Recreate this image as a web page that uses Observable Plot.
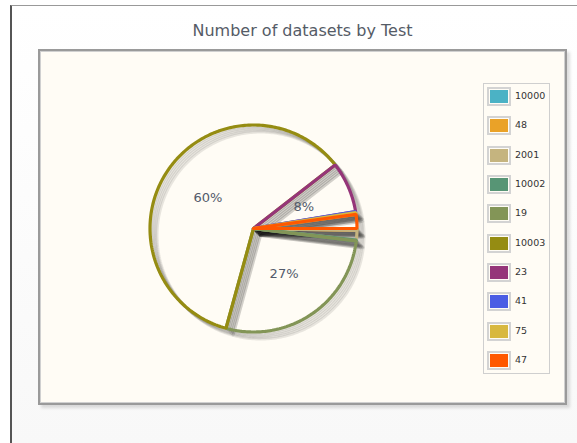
<!DOCTYPE html>
<html>
<head>
<meta charset="utf-8">
<script src="https://cdn.jsdelivr.net/npm/d3@7"></script>
<script src="https://cdn.jsdelivr.net/npm/@observablehq/plot@0.6"></script>
<style>
  html, body { margin: 0; padding: 0; width: 577px; height: 443px; overflow: hidden; background: #fff; }
  #frame { position: absolute; left: 10px; top: 5px; width: 567px; height: 438px;
    border-left: 2px solid #555; border-top: 1px solid #999;
    background: linear-gradient(#ffffff, #f8f8f8); }
  #title { position: absolute; left: 38px; width: 529px; top: 21px; text-align: center;
    font-family: "DejaVu Sans", sans-serif; font-size: 16px; color: #555b66; }
  #box { position: absolute; left: 38px; top: 49px; width: 529px; height: 356px; box-sizing: border-box;
    border: 2px solid #9a9a9a; background: #fffcf5;
    box-shadow: inset 0 0 0 1px #d0d0d0, 3px 3px 3px rgba(0,0,0,0.13); }
  #chart { position: absolute; left: 0; top: 0; }
  #legend { position: absolute; left: 443px; top: 32px; width: 67px; height: 291px; box-sizing: border-box;
    border: 1px solid #cfcfcf; background: #fffcf5; }
  .row { position: absolute; left: 0; height: 18px; }
  .sw { position: absolute; left: 3px; top: 0; width: 18px; height: 13px; border: 2px solid #d3d3d3; padding: 1px; }
  .sw div { width: 100%; height: 100%; }
  .lab { position: absolute; left: 31px; top: 3px; font-family: "DejaVu Sans", sans-serif; font-size: 9.5px; color: #333; white-space: nowrap; }
</style>
</head>
<body>
<div id="frame"></div>
<div id="title">Number of datasets by Test</div>
<div id="box">
  <div id="chart"></div>
  <div id="legend"></div>
</div>
<script>
// Data
const categories = ["10000", "48", "2001", "10002", "19", "10003", "23", "41", "75", "47"];
const counts = [1, 1, 11, 1, 200, 440, 58, 1, 2, 16];
const colors = ["#4bb2c5", "#EAA228", "#c5b47f", "#579575", "#839557", "#958c12", "#953579", "#4b5de4", "#d8b83f", "#ff5800"];

// Build slices (clockwise from 3 o'clock)
const total = d3.sum(counts);
let acc = 0;
const slices = categories.map((c, i) => {
  const a0 = acc / total * 2 * Math.PI;
  acc += counts[i];
  const a1 = acc / total * 2 * Math.PI;
  return {cat: c, count: counts[i], a0, a1, pct: counts[i] / total};
});
const pts = slices.flatMap(s => {
  const n = Math.max(2, Math.ceil((s.a1 - s.a0) / (Math.PI / 180)));
  const arr = [{cat: s.cat, x: 0, y: 0}];
  for (let k = 0; k <= n; k++) {
    const a = s.a0 + (s.a1 - s.a0) * k / n;
    arr.push({cat: s.cat, x: Math.cos(a), y: Math.sin(a)});
  }
  arr.push({cat: s.cat, x: 0, y: 0});
  return arr;
});

const W = 525, H = 352, cx = 213, cy = 177, kpx = 103.5;
const shadows = [1, 2, 3, 4, 5].map(j =>
  Plot.line(pts, {x: "x", y: "y", z: "cat", stroke: "#000", strokeOpacity: 0.09, strokeWidth: 3,
    strokeLinejoin: "miter", dx: 1.41 * j, dy: 1.41 * j}));

const chart = Plot.plot({
  width: W, height: H,
  marginTop: 0, marginRight: 0, marginBottom: 0, marginLeft: 0,
  x: {domain: [-cx / kpx, (W - cx) / kpx], axis: null},
  y: {domain: [-cy / kpx, (H - cy) / kpx], reverse: true, axis: null},
  color: {domain: categories, range: colors},
  style: {background: "transparent", overflow: "visible"},
  marks: [
    ...shadows,
    Plot.line(pts, {x: "x", y: "y", z: "cat", stroke: "cat", strokeWidth: 3.2, strokeLinejoin: "miter"}),
    Plot.text(slices.filter(s => s.pct >= 0.03), {
      x: s => 0.53 * Math.cos((s.a0 + s.a1) / 2),
      y: s => 0.53 * Math.sin((s.a0 + s.a1) / 2),
      text: s => Math.round(s.pct * 100) + "%",
      fill: "#525a6a", fontSize: 13, fontFamily: "DejaVu Sans, sans-serif"
    })
  ]
});
document.getElementById("chart").appendChild(chart);

// Legend
const legend = document.getElementById("legend");
categories.forEach((c, i) => {
  const row = document.createElement("div");
  row.className = "row";
  row.style.top = (3 + i * 29.35) + "px";
  row.innerHTML = `<div class="sw"><div style="background:${colors[i]}"></div></div><div class="lab">${c}</div>`;
  legend.appendChild(row);
});
</script>
</body>
</html>
